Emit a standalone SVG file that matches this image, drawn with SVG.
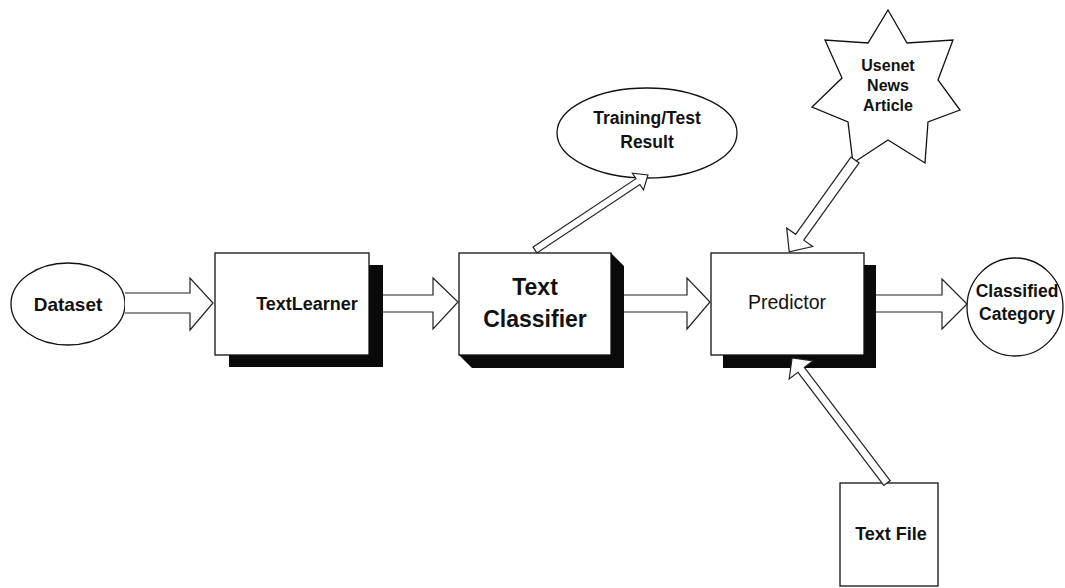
<svg xmlns="http://www.w3.org/2000/svg" width="1065" height="588" viewBox="0 0 1065 588">
  <style>
    .shape { fill: #fff; stroke: #111; stroke-width: 1.3; }
    .shadow { fill: #0a0a0a; stroke: none; }
    .arrow { fill: #fff; stroke: #222; stroke-width: 1.2; stroke-linejoin: miter; }
    text { font-family: "Liberation Sans", Arial, sans-serif; fill: #111; text-anchor: middle; }
    .b { font-weight: bold; }
  </style>

  <rect width="1065" height="588" fill="#fff"/>

  <!-- Dataset -->
  <g id="dataset">
    <ellipse class="shape" cx="68" cy="304" rx="57" ry="41"/>
    <text class="b" x="68" y="311" font-size="19">Dataset</text>
  </g>

  <!-- TextLearner -->
  <g id="textlearner">
    <rect class="shadow" x="229" y="265" width="154" height="102"/>
    <rect class="shape" x="215" y="253" width="154" height="102"/>
    <text class="b" x="307" y="310" font-size="18">TextLearner</text>
  </g>

  <!-- Text Classifier (extruded box) -->
  <g id="text-classifier">
    <polygon class="shadow" points="611,253 624,266 624,368 472,368 459,355 611,355"/>
    <rect class="shape" x="459" y="253" width="152" height="102"/>
    <text class="b" x="535" y="295" font-size="23">Text</text>
    <text class="b" x="535" y="327" font-size="23">Classifier</text>
  </g>

  <!-- Training/Test Result -->
  <g id="training-result">
    <ellipse class="shape" cx="647" cy="133" rx="90" ry="45"/>
    <text class="b" x="647" y="124" font-size="17.5">Training/Test</text>
    <text class="b" x="647" y="148" font-size="17.5">Result</text>
  </g>

  <!-- Predictor -->
  <g id="predictor">
    <rect class="shadow" x="723" y="265" width="153" height="103"/>
    <rect class="shape" x="711" y="253" width="153" height="102"/>
    <text x="787" y="309" font-size="19.5">Predictor</text>
  </g>

  <!-- Usenet News Article (seven-point star) -->
  <g id="usenet-article">
    <polygon class="shape" points="888,10 907,43 953,40 938,80 960,110 928,122 925,163 888,140 853,163 848,122 812,107 842,78 825,40 868,43"/>
    <text class="b" x="888" y="71" font-size="16">Usenet</text>
    <text class="b" x="888" y="91" font-size="16">News</text>
    <text class="b" x="888" y="111" font-size="16">Article</text>
  </g>

  <!-- Classified Category -->
  <g id="classified-category">
    <ellipse class="shape" cx="1015" cy="307" rx="48" ry="49"/>
    <text class="b" x="1017" y="297" font-size="17.5">Classified</text>
    <text class="b" x="1017" y="320" font-size="17.5">Category</text>
  </g>

  <!-- Text File -->
  <g id="text-file">
    <rect class="shape" x="840" y="483" width="98" height="103"/>
    <text class="b" x="891" y="540" font-size="18">Text File</text>
  </g>

  <!-- Hollow block arrows -->
  <g id="connectors">
    <path class="arrow" d="M125,293 H190 V278 L213,303 L190,330 V313 H125"/>
    <path class="arrow" d="M383,295 H433 V278 L458,302 L433,329 V312 H383"/>
    <path class="arrow" d="M624,295 H687 V278 L710,302 L687,329 V312 H624"/>
    <path class="arrow" d="M876,295 H942 V279 L967,304 L942,329 V312 H876"/>
    <polygon class="arrow" transform="translate(535,250) rotate(-33.6)" points="0,-3.5 123.6,-3.5 123.6,-10 135.6,0 123.6,10 123.6,3.5 0,3.5"/>
    <polygon class="arrow" transform="translate(855,160) rotate(125.6)" points="0,-5 95,-5 95,-16 113,0 95,16 95,5 0,5"/>
    <polygon class="arrow" transform="translate(887,483) rotate(-127.2)" points="0,-4 142,-4 142,-15 157,0 142,15 142,4 0,4"/>
  </g>
</svg>
